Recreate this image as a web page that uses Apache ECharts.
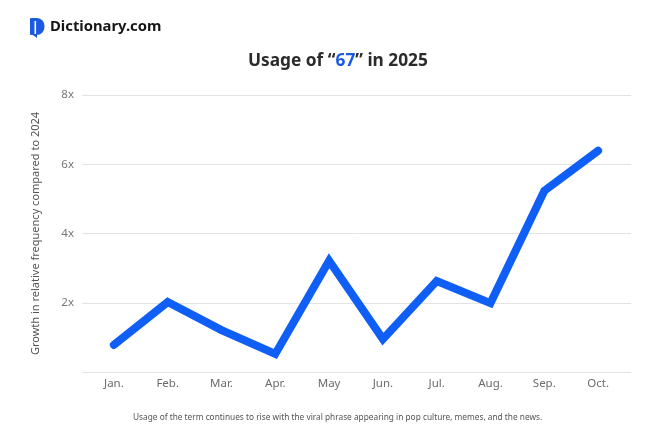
<!DOCTYPE html>
<html>
<head>
<meta charset="utf-8">
<script src="https://cdn.jsdelivr.net/npm/echarts@6/dist/echarts.min.js"></script>
<style>html,body{margin:0;padding:0;background:#fff}#c{width:660px;height:446px}</style>
</head>
<body>
<div id="c"></div>
<script>
var months = ['Jan.', 'Feb.', 'Mar.', 'Apr.', 'May', 'Jun.', 'Jul.', 'Aug.', 'Sep.', 'Oct.'];
var growth = [0.78, 2.02, 1.21, 0.52, 3.21, 0.95, 2.63, 1.99, 5.23, 6.39];
var yTicks = [0, 2, 4, 6, 8];

var chart = echarts.init(document.getElementById('c'), null, {renderer: 'canvas'});
var font = '"Noto Sans", "Open Sans", sans-serif';
chart.setOption({
  backgroundColor: '#ffffff',
  animation: false,
  title: {
    text: '{a|Usage of “}{b|67}{a|” in 2025}',
    left: 243,
    top: 48,
    textStyle: {
      rich: {
        a: {fontFamily: font, fontSize: 17.3, fontWeight: 'bold', color: '#2b2b2b'},
        b: {fontFamily: font, fontSize: 17.3, fontWeight: 'bold', color: '#1a5ae0'}
      }
    }
  },
  graphic: [
    {
      type: 'rect',
      shape: {x: 30, y: 18, width: 14.5, height: 17, r: [1, 8, 8, 1]},
      style: {fill: '#1a5ae0'}
    },
    {
      type: 'polygon',
      shape: {points: [[30, 33], [37, 33], [37, 38]]},
      style: {fill: '#1a5ae0'}
    },
    {
      type: 'rect',
      shape: {x: 34.5, y: 21, width: 1.6, height: 13},
      style: {fill: '#ffffff'}
    },
    {
      type: 'text',
      left: 50,
      top: 19,
      style: {text: 'Dictionary.com', font: 'bold 14.8px ' + font, fill: '#161616'}
    },
    {
      type: 'text',
      left: 133,
      top: 414,
      style: {text: 'Usage of the term continues to rise with the viral phrase appearing in pop culture, memes, and the news.', font: '8.3px ' + font, fill: '#555555'}
    }
  ],
  grid: [
    {left: 82, right: 29, top: 95, bottom: 74},
    {left: 87, right: 35, top: 95, bottom: 74}
  ],
  xAxis: [
    {gridIndex: 0, type: 'category', data: months, show: false},
    {
      gridIndex: 1, type: 'category', data: months, boundaryGap: true,
      axisLine: {show: false}, axisTick: {show: false}, splitLine: {show: false},
      axisLabel: {color: '#6b6b6b', fontSize: 11.5, fontFamily: font, margin: 6}
    }
  ],
  yAxis: [
    {
      gridIndex: 0, type: 'value', min: yTicks[0], max: yTicks[yTicks.length - 1], interval: 2,
      name: 'Growth in relative frequency compared to 2024',
      nameLocation: 'middle', nameGap: 41,
      nameTextStyle: {color: '#555555', fontSize: 11, fontFamily: font},
      axisLine: {show: false}, axisTick: {show: false},
      axisLabel: {color: '#777777', fontSize: 11.5, fontFamily: font, margin: 8,
        formatter: function (v) { return v === 0 ? '' : v + 'x'; }},
      splitLine: {lineStyle: {color: '#e3e3e3', width: 1}}
    },
    {
      gridIndex: 1, type: 'value', min: yTicks[0], max: yTicks[yTicks.length - 1], interval: 2, show: false
    }
  ],
  series: [{
    type: 'line',
    xAxisIndex: 1,
    yAxisIndex: 1,
    data: growth,
    symbol: 'none',
    lineStyle: {color: '#0f5ff7', width: 8, cap: 'round', join: 'miter'}
  }]
});
</script>
</body>
</html>
